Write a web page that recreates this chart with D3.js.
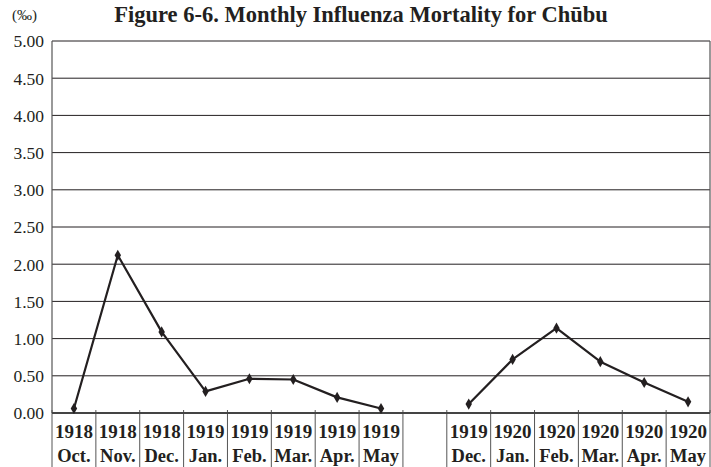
<!DOCTYPE html>
<html>
<head>
<meta charset="utf-8">
<script src="https://cdn.jsdelivr.net/npm/d3@7"></script>
<style>
  body { margin: 0; background: #fff; }
  svg text { font-family: "Liberation Serif", "Times New Roman", serif; fill: #231f20; }
</style>
</head>
<body>
<div id="chart"></div>
<script>
// categories (the empty one is the gap between the two waves)
const years = ["1918", "1918", "1918", "1919", "1919", "1919", "1919", "1919", "",
    "1919", "1920", "1920", "1920", "1920", "1920"];
const months = ["Oct.", "Nov.", "Dec.", "Jan.", "Feb.", "Mar.", "Apr.", "May", "",
    "Dec.", "Jan.", "Feb.", "Mar.", "Apr.", "May"];

// mortality per mille
const wave1 = [0.06, 2.12, 1.09, 0.29, 0.46, 0.45, 0.21, 0.06];
const wave2 = [0.12, 0.72, 1.14, 0.69, 0.41, 0.15];

const yTicks = [0, 0.5, 1, 1.5, 2, 2.5, 3, 3.5, 4, 4.5, 5];

const serif = "'Liberation Serif', 'Times New Roman', serif";

const W = 711, H = 467;
const margin = { top: 41, right: 1, bottom: 54, left: 52 };
const width = W - margin.left - margin.right,
    height = H - margin.top - margin.bottom;

const svg = d3.select("#chart").append("svg")
    .attr("width", W)
    .attr("height", H);

const g = svg.append("g")
    .attr("transform", "translate(" + margin.left + "," + margin.top + ")");

const keys = d3.range(years.length);

const x = d3.scaleBand()
    .domain(keys)
    .range([0, width]);

const y = d3.scaleLinear()
    .domain([0, 5])
    .range([height, 0]);

// horizontal grid
g.selectAll(".grid")
    .data(yTicks)
    .enter().append("line")
    .attr("class", "grid")
    .attr("x1", 0)
    .attr("x2", width)
    .attr("y1", d => y(d))
    .attr("y2", d => y(d))
    .attr("stroke", "#231f20")
    .attr("stroke-width", 1);

// frame: left and right sides
g.append("line")
    .attr("x1", 0).attr("x2", 0)
    .attr("y1", 0).attr("y2", height)
    .attr("stroke", "#555").attr("stroke-width", 1.2);
g.append("line")
    .attr("x1", width).attr("x2", width)
    .attr("y1", 0).attr("y2", height)
    .attr("stroke", "#555").attr("stroke-width", 1.2);

// y axis labels
const yAxis = d3.axisLeft(y)
    .tickValues(yTicks)
    .tickFormat(d3.format(".2f"))
    .tickSize(0)
    .tickPadding(8);

g.append("g")
    .attr("class", "y-axis")
    .call(yAxis)
    .attr("font-family", serif)
    .call(a => a.select(".domain").remove())
    .selectAll("text")
    .style("font-family", serif)
    .style("font-size", "17.5px")
    .attr("dy", "0.34em");

// category separators, running down through the label rows
const bounds = keys.map(k => x(k)).concat([width]);
g.selectAll(".sep")
    .data(bounds)
    .enter().append("line")
    .attr("class", "sep")
    .attr("x1", d => d)
    .attr("x2", d => d)
    .attr("y1", height - 3)
    .attr("y2", H - margin.top)
    .attr("stroke", "#555")
    .attr("stroke-width", 1);

// x axis line
g.append("line")
    .attr("x1", 0).attr("x2", width)
    .attr("y1", height).attr("y2", height)
    .attr("stroke", "#444").attr("stroke-width", 2);

// two-row category labels
g.selectAll(".year")
    .data(keys)
    .enter().append("text")
    .attr("class", "year")
    .attr("x", d => x(d) + x.bandwidth() / 2)
    .attr("y", height + 24.5)
    .attr("text-anchor", "middle")
    .style("font-size", "19px")
    .style("font-weight", "bold")
    .text(d => years[d]);

g.selectAll(".month")
    .data(keys)
    .enter().append("text")
    .attr("class", "month")
    .attr("x", d => x(d) + x.bandwidth() / 2)
    .attr("y", height + 48.5)
    .attr("text-anchor", "middle")
    .style("font-size", "18.5px")
    .style("font-weight", "bold")
    .text(d => months[d]);

// series
const series = [
    wave1.map((v, i) => ({ k: i, v: v })),
    wave2.map((v, i) => ({ k: i + 9, v: v }))
];

const line = d3.line()
    .x(d => x(d.k) + x.bandwidth() / 2)
    .y(d => y(d.v));

g.selectAll(".series")
    .data(series)
    .enter().append("path")
    .attr("class", "series")
    .attr("d", line)
    .attr("fill", "none")
    .attr("stroke", "#231f20")
    .attr("stroke-width", 2.2)
    .attr("stroke-linejoin", "round");

const diamond = d3.symbol().type(d3.symbolDiamond).size(36);

g.selectAll(".pt")
    .data(series.flat())
    .enter().append("path")
    .attr("class", "pt")
    .attr("d", diamond)
    .attr("transform", d => "translate(" + (x(d.k) + x.bandwidth() / 2) + "," + y(d.v) + ")")
    .attr("fill", "#231f20");

// unit and title
svg.append("text")
    .attr("x", 12)
    .attr("y", 20)
    .style("font-family", serif)
    .style("font-size", "15px")
    .text("(‰)");

svg.append("text")
    .attr("x", 361)
    .attr("y", 22)
    .attr("text-anchor", "middle")
    .style("font-size", "22.5px")
    .style("font-weight", "bold")
    .text("Figure 6-6. Monthly Influenza Mortality for Chūbu");
</script>
</body>
</html>
